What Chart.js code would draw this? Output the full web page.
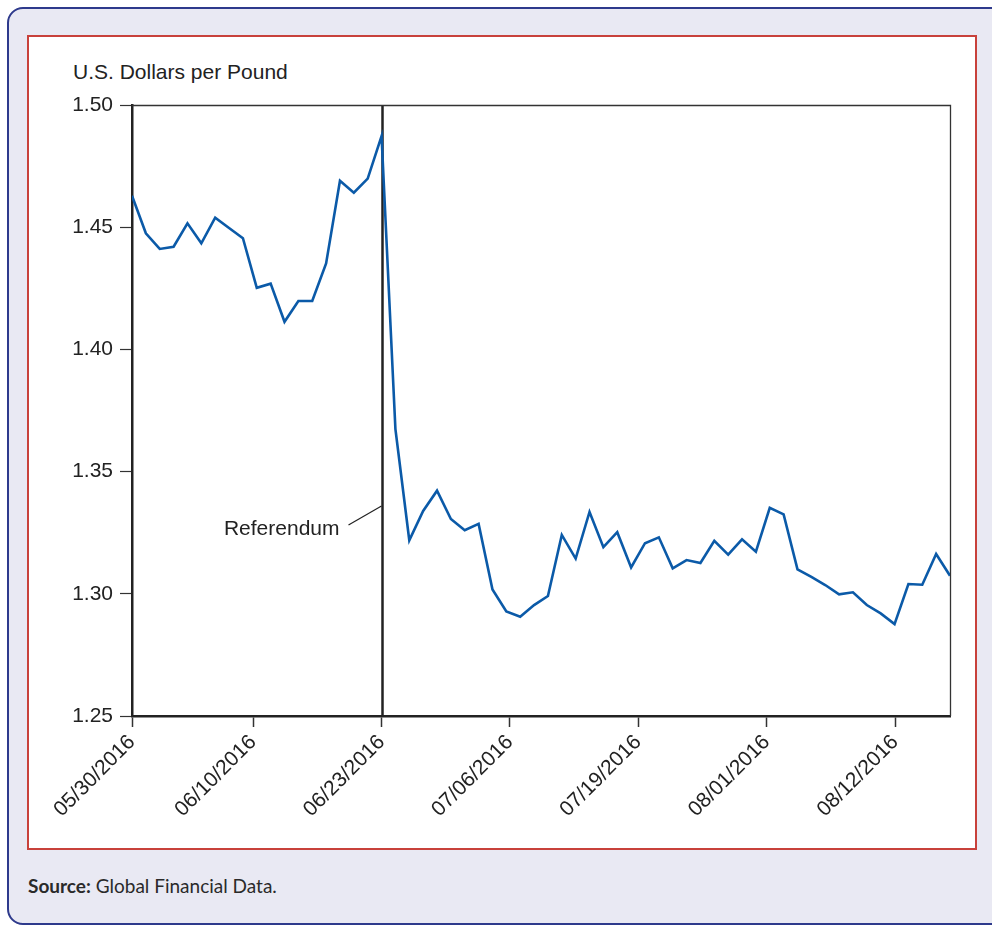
<!DOCTYPE html>
<html><head><meta charset="utf-8">
<script src="https://cdn.jsdelivr.net/npm/chart.js@4/dist/chart.umd.min.js"></script>
<style>
html,body{margin:0;padding:0;width:992px;height:926px;overflow:hidden;background:#fff;}
#outer{position:absolute;left:7px;top:7px;width:1010px;height:918px;border:2px solid #2e3a8c;border-radius:16px;background:#e9e9f3;box-sizing:border-box;}
#red{position:absolute;left:27px;top:35px;width:950px;height:815px;border:2.5px solid #c8413b;background:#fff;box-sizing:border-box;}
#src{position:absolute;left:28px;top:875px;font-size:19px;font-family:Lato,"Open Sans",sans-serif;color:#2a2a2a;line-height:22px;white-space:nowrap;}
#ytitle{position:absolute;left:73px;top:61px;font-size:21px;font-family:"Liberation Sans",Arial,sans-serif;color:#222;line-height:21px;white-space:nowrap;}
#c{position:absolute;left:0;top:0;}
</style></head>
<body>
<div id="outer"></div>
<div id="red"></div>
<div id="ytitle">U.S. Dollars per Pound</div>
<div id="src"><b>Source:</b> Global Financial Data.</div>
<canvas id="c" width="992" height="926"></canvas>
<script>
// Trading days (weekdays) 05/30/2016 .. 08/19/2016
const dates = [
 '05/30/2016','05/31/2016','06/01/2016','06/02/2016','06/03/2016','06/06/2016','06/07/2016','06/08/2016','06/09/2016','06/10/2016',
 '06/13/2016','06/14/2016','06/15/2016','06/16/2016','06/17/2016','06/20/2016','06/21/2016','06/22/2016','06/23/2016','06/24/2016',
 '06/27/2016','06/28/2016','06/29/2016','06/30/2016','07/01/2016','07/04/2016','07/05/2016','07/06/2016','07/07/2016','07/08/2016',
 '07/11/2016','07/12/2016','07/13/2016','07/14/2016','07/15/2016','07/18/2016','07/19/2016','07/20/2016','07/21/2016','07/22/2016',
 '07/25/2016','07/26/2016','07/27/2016','07/28/2016','07/29/2016','08/01/2016','08/02/2016','08/03/2016','08/04/2016','08/05/2016',
 '08/08/2016','08/09/2016','08/10/2016','08/11/2016','08/12/2016','08/15/2016','08/16/2016','08/17/2016','08/18/2016','08/19/2016'
];
// U.S. dollars per pound
const rates = [
 1.4629, 1.4475, 1.4411, 1.4420, 1.4516, 1.4434, 1.4539, 1.4497, 1.4455, 1.4252,
 1.4269, 1.4113, 1.4198, 1.4198, 1.4352, 1.4690, 1.4641, 1.4699, 1.4873, 1.3674,
 1.3219, 1.3339, 1.3422, 1.3306, 1.3260, 1.3286, 1.3018, 1.2928, 1.2906, 1.2954,
 1.2991, 1.3241, 1.3144, 1.3335, 1.3191, 1.3252, 1.3108, 1.3207, 1.3231, 1.3104,
 1.3138, 1.3126, 1.3217, 1.3160, 1.3223, 1.3172, 1.3352, 1.3325, 1.3100, 1.3069,
 1.3036, 1.2998, 1.3006, 1.2954, 1.2920, 1.2876, 1.3040, 1.3037, 1.3163, 1.3074
];
// x-axis tick labels and their positions (in trading-day index units, as placed in the source chart)
const tickLabels = ['05/30/2016','06/10/2016','06/23/2016','07/06/2016','07/19/2016','08/01/2016','08/12/2016'];
const tickPositions = [0, 8.73, 18, 27.25, 36.5, 45.77, 55.04];
const yTickValues = [1.25, 1.30, 1.35, 1.40, 1.45, 1.50];
const referendumIndex = 18;
const referendumLabel = 'Referendum';

const FONT = '"Liberation Sans", Arial, sans-serif';

const framePlugin = {
  id: 'frame',
  beforeDatasetsDraw(chart) {
    const {ctx, chartArea: a, scales: {x, y}} = chart;
    ctx.save();
    // referendum vertical line
    const xr = Math.round(x.getPixelForValue(referendumIndex)) + 0.5;
    ctx.strokeStyle = '#222';
    ctx.lineWidth = 2.5;
    ctx.beginPath(); ctx.moveTo(xr, a.top); ctx.lineTo(xr, a.bottom); ctx.stroke();
    // leader line + label
    const ya = y.getPixelForValue(1.3359);
    ctx.lineWidth = 1.2;
    ctx.beginPath(); ctx.moveTo(xr - 1, ya); ctx.lineTo(xr - 34, ya + 19); ctx.stroke();
    ctx.fillStyle = '#222';
    ctx.font = '21px ' + FONT;
    ctx.textAlign = 'right';
    ctx.textBaseline = 'alphabetic';
    ctx.fillText(referendumLabel, xr - 43, ya + 29);
    // top and right frame
    ctx.strokeStyle = '#333';
    ctx.lineWidth = 1.3;
    ctx.beginPath();
    ctx.moveTo(a.left, a.top + 0.5); ctx.lineTo(a.right + 0.5, a.top + 0.5); ctx.lineTo(a.right + 0.5, a.bottom);
    ctx.stroke();
    ctx.restore();
  }
};

new Chart(document.getElementById('c'), {
  type: 'line',
  data: {
    datasets: [{
      label: 'USD per GBP',
      data: rates.map((v, i) => ({x: i, y: v, d: dates[i]})),
      borderColor: '#0b5aa8',
      borderWidth: 2.6,
      pointRadius: 0,
      tension: 0,
      fill: false
    }]
  },
  options: {
    responsive: false,
    animation: false,
    devicePixelRatio: 1,
    layout: {padding: {left: 0, right: 42, top: 105, bottom: 0}},
    plugins: {legend: {display: false}, tooltip: {enabled: false}},
    scales: {
      x: {
        type: 'linear',
        min: 0,
        max: rates.length - 1,
        afterBuildTicks: (axis) => { axis.ticks = tickPositions.map(v => ({value: v})); },
        afterFit: (s) => { s.height = 210; },
        ticks: {
          autoSkip: false,
          minRotation: 45,
          maxRotation: 45,
          padding: 3,
          color: '#222',
          font: {family: FONT, size: 21},
          callback: (v, i) => tickLabels[i]
        },
        grid: {drawOnChartArea: false, drawTicks: true, tickLength: 11, tickColor: '#333', tickWidth: 1.5},
        border: {display: true, color: '#222', width: 2.5}
      },
      y: {
        min: 1.25,
        max: 1.50,
        afterBuildTicks: (axis) => { axis.ticks = yTickValues.map(v => ({value: v})); },
        afterFit: (s) => { s.width = 132; },
        ticks: {
          padding: 7,
          color: '#222',
          font: {family: FONT, size: 21},
          callback: (v) => v.toFixed(2)
        },
        grid: {drawOnChartArea: false, drawTicks: true, tickLength: 12, tickColor: '#333', tickWidth: 1.2},
        border: {display: true, color: '#222', width: 2.5}
      }
    }
  },
  plugins: [framePlugin]
});
</script>
</body></html>
